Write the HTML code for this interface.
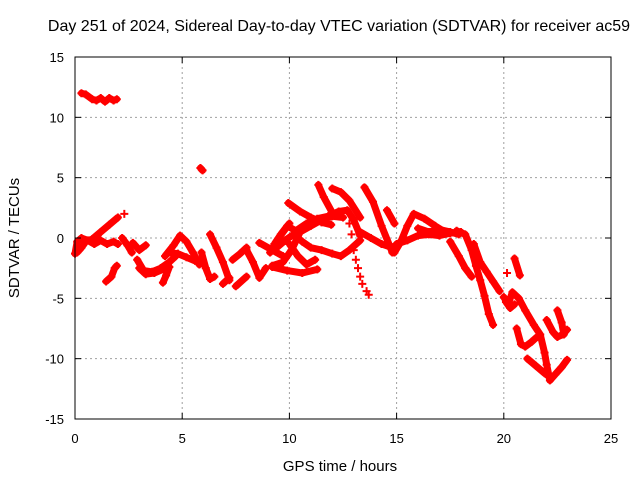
<!DOCTYPE html>
<html><head><meta charset="utf-8"><style>
html,body{margin:0;padding:0;background:#fff}
svg{display:block;font-family:"Liberation Sans",sans-serif}
</style></head><body>
<svg id="chart" width="640" height="480" viewBox="0 0 640 480" xmlns="http://www.w3.org/2000/svg">
<text x="339" y="31" font-size="16" text-anchor="middle">Day 251 of 2024, Sidereal Day-to-day VTEC variation (SDTVAR) for receiver ac59</text>
<text x="340" y="471" font-size="15" text-anchor="middle">GPS time / hours</text>
<text x="0" y="0" font-size="15" text-anchor="middle" transform="translate(19,238) rotate(-90)">SDTVAR / TECUs</text>
<g id="grid"></g>
<g id="marks"></g>
<rect x="75" y="57" width="536" height="362" fill="none" stroke="#000" stroke-width="1"/>
<g id="ticks"></g>
</svg>
<script>
const xTicks=[0,5,10,15,20,25];
const yTicks=[-15,-10,-5,0,5,10,15];
const tracks=[
[[0.3,12],[0.5,11.9],[0.8,11.5],[1.0,11.4],[1.2,11.6],[1.4,11.3],[1.6,11.6],[1.8,11.4],[1.95,11.5]],
[[5.85,5.8],[5.95,5.6]],
[[0.4,-0.3],[0.8,-0.1],[1.2,0.5],[1.6,1.1],[2.0,1.7]],
[[2.3,2.0]],
[[0.0,-1.3],[0.1,-0.3],[0.3,0],[0.6,-0.2],[0.9,-0.5],[1.2,-0.2],[1.5,-0.5],[1.8,-0.3],[2.0,-0.5]],
[[0.1,-1.2],[0.3,-0.8],[0.5,-0.3]],
[[1.45,-3.6],[1.7,-3.2],[1.85,-2.5],[1.95,-2.3]],
[[2.2,0],[2.45,-0.6],[2.65,-1.2]],
[[2.7,-0.4],[3.0,-1.0],[3.3,-0.6]],
[[2.9,-1.8],[3.2,-2.7],[3.6,-2.8],[4.0,-2.5],[4.4,-2.0],[4.7,-1.5]],
[[3.0,-2.5],[3.3,-3.0],[3.7,-2.9],[4.1,-2.6]],
[[4.4,-2.4],[4.25,-3.1],[4.1,-3.7]],
[[4.2,-1.5],[4.6,-0.6],[4.9,0.2],[5.2,-0.3],[5.5,-1.2],[5.8,-2.2]],
[[4.4,-1.2],[4.8,-1.3],[5.2,-1.6],[5.6,-1.9]],
[[5.9,-1.2],[6.1,-2.5],[6.3,-3.4],[6.5,-3.2]],
[[6.3,0.3],[6.6,-0.8],[6.9,-2.0],[7.2,-3.5]],
[[6.9,-3.8],[7.2,-3.3]],
[[7.35,-1.8],[7.7,-1.3],[8.0,-0.8]],
[[7.5,-4.0],[8.0,-3.2]],
[[8.0,-1.0],[8.3,-2.0],[8.6,-3.3],[8.9,-2.5]],
[[8.6,-0.4],[9.1,-0.9],[9.7,-1.5]],
[[9.1,-1.2],[9.5,0.0],[10.0,1.2]],
[[9.2,-2.4],[9.9,-2.7],[10.6,-2.9],[11.3,-2.6]],
[[9.95,2.9],[10.5,2.2],[11.0,1.7],[11.5,1.3],[11.95,1.1]],
[[11.35,4.4],[11.6,3.4],[12.0,2.1]],
[[12.0,4.1],[12.4,3.8],[12.8,3.1],[13.3,1.7]],
[[13.5,4.2],[13.9,3.0],[14.3,1.0],[14.8,-1.2]],
[[14.55,2.3],[14.9,1.2]],
[[9.3,-0.5],[9.6,0.3],[9.9,1.0],[10.3,0.6],[10.8,1.2],[11.3,1.6],[11.8,1.8],[12.3,2.2],[12.7,2.3],[13.0,1.5],[13.3,0.2]],
[[9.4,-0.8],[9.8,-0.2],[10.2,0.3],[10.6,-0.3],[11.0,-0.8],[11.5,-1.0],[12.0,-1.3],[12.4,-1.5],[12.8,-1.0],[13.3,-0.2]],
[[10.0,-0.5],[10.4,-1.5],[10.8,-2.2],[11.2,-1.8]],
[[9.2,-2.3],[9.7,-2.0],[10.1,-1.0],[10.5,0.5],[11.0,1.0],[11.5,1.5],[12.0,1.8],[12.5,1.7]],
[[13.3,0.5],[13.8,0.0],[14.3,-0.5],[14.8,-0.8],[15.2,-0.3]],
[[14.9,-1.2],[15.2,-0.3],[15.5,1.0],[15.8,2.0],[16.3,1.6],[16.8,1.0],[17.35,0.4]],
[[15.0,-0.5],[15.5,-0.2],[16.0,0.2],[16.5,0.3],[17.0,0.2],[17.5,0.4],[18.0,0.5]],
[[16.0,0.8],[16.5,0.5],[17.0,0.7],[17.5,0.5],[17.9,0.3]],
[[17.8,0.6],[18.2,0.3],[18.5,-1.0],[18.7,-2.3],[18.9,-3.5],[19.1,-4.8],[19.3,-6.3],[19.5,-7.2]],
[[17.5,-0.3],[17.9,-1.5],[18.2,-2.5],[18.5,-3.2]],
[[18.6,-0.5],[18.9,-2.0],[19.2,-2.8],[19.5,-3.6],[19.8,-4.4]],
[[20.5,-1.7],[20.75,-3.1]],
[[20.15,-2.9]],
[[20.0,-4.9],[20.2,-5.5],[20.4,-4.5],[20.7,-5.0],[21.0,-6.0],[21.4,-7.2],[21.7,-8.0],[21.9,-9.5],[22.0,-10.5],[22.15,-11.8],[22.4,-11.3],[22.7,-10.7],[22.95,-10.1]],
[[21.1,-10.0],[21.5,-10.6],[21.9,-11.2],[22.2,-11.6]],
[[20.6,-7.5],[20.8,-8.8],[21.0,-9.0],[21.3,-8.6],[21.55,-8.2]],
[[22.0,-6.8],[22.3,-7.8],[22.5,-8.2],[22.75,-8.0],[22.95,-7.6]],
[[22.5,-6.0],[22.7,-7.0],[22.8,-8.0]],
[[20.1,-5.3],[20.3,-5.8],[20.5,-5.5]]
];
const sparsePoints=[[12.8,1.2],[12.9,0.3],[13.0,-1.0],[13.1,-1.8],[13.2,-2.5],[13.3,-3.2],[13.4,-3.8],[13.6,-4.4],[13.7,-4.7]];

const NS="http://www.w3.org/2000/svg";
const X0=75,X1=611,Y0=419,Y1=57;
const xs=v=>X0+(v-0)/(25-0)*(X1-X0);
const ys=v=>Y0-(v+15)/30*(Y0-Y1);
function mk(tag,attrs,parent){const e=document.createElementNS(NS,tag);for(const k in attrs)e.setAttribute(k,attrs[k]);parent.appendChild(e);return e;}
const grid=document.getElementById('grid'),ticks=document.getElementById('ticks'),marks=document.getElementById('marks');
xTicks.forEach(t=>{
  const x=xs(t);
  if(t>0&&t<25){const g=mk('line',{x1:x,x2:x,y1:Y1,y2:Y0,stroke:'#a0a0a0','stroke-dasharray':'2,3'},grid);
  
  }
  mk('line',{x1:x,x2:x,y1:Y0,y2:Y0-6,stroke:'#000'},ticks);
  mk('line',{x1:x,x2:x,y1:Y1,y2:Y1+6,stroke:'#000'},ticks);
  const l=mk('text',{x:x,y:443,'font-size':13,'text-anchor':'middle'},ticks);l.textContent=t;
  
  
});
yTicks.forEach(t=>{
  const y=ys(t);
  if(t>-15&&t<15){const g=mk('line',{x1:X0,x2:X1,y1:y,y2:y,stroke:'#a0a0a0','stroke-dasharray':'2,3'},grid);
  
  }
  mk('line',{x1:X0,x2:X0+6,y1:y,y2:y,stroke:'#000'},ticks);
  mk('line',{x1:X1,x2:X1-6,y1:y,y2:y,stroke:'#000'},ticks);
  const l=mk('text',{x:64,y:y+5,'font-size':13,'text-anchor':'end'},ticks);l.textContent=t;
  
  
});
function plus(t,v,parent){
  const x=xs(t),y=ys(v);
  const p=mk('path',{d:`M${x-4},${y}H${x+4}M${x},${y-4}V${y+4}`,stroke:'#f00','stroke-width':2},parent);
  
  
}
tracks.forEach(tr=>{
  const g=mk('g',{},marks);
  
  
  if(tr.length>1){
    const pl=mk('polyline',{points:tr.map(p=>xs(p[0])+','+ys(p[1])).join(' '),fill:'none',stroke:'#f00','stroke-width':7,'stroke-linejoin':'round','stroke-linecap':'round'},g);
    
    
  }
  tr.forEach(p=>plus(p[0],p[1],g));
});
sparsePoints.forEach(p=>plus(p[0],p[1],marks));
</script>
</body></html>
